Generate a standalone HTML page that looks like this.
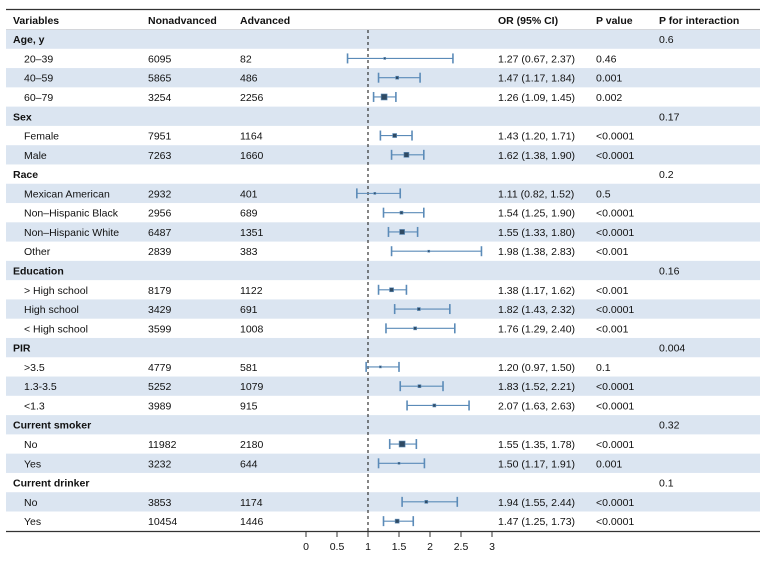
<!DOCTYPE html>
<html><head><meta charset="utf-8"><style>
body{margin:0;background:#fff;}
svg{display:block;font-family:"Liberation Sans",Arial,sans-serif;font-size:10.5px;fill:#111;}
</style></head><body>
<svg id="s" width="771" height="563" viewBox="0 0 771 563"></svg>
<script>
const rows=[
["Age, y",1,"","","","","0.6"],
["20–39",0,"6095","82","1.27 (0.67, 2.37)","0.46","",1.27,0.67,2.37,2],
["40–59",0,"5865","486","1.47 (1.17, 1.84)","0.001","",1.47,1.17,1.84,3],
["60–79",0,"3254","2256","1.26 (1.09, 1.45)","0.002","",1.26,1.09,1.45,6],
["Sex",1,"","","","","0.17"],
["Female",0,"7951","1164","1.43 (1.20, 1.71)","<0.0001","",1.43,1.20,1.71,4],
["Male",0,"7263","1660","1.62 (1.38, 1.90)","<0.0001","",1.62,1.38,1.90,5],
["Race",1,"","","","","0.2"],
["Mexican American",0,"2932","401","1.11 (0.82, 1.52)","0.5","",1.11,0.82,1.52,2],
["Non–Hispanic Black",0,"2956","689","1.54 (1.25, 1.90)","<0.0001","",1.54,1.25,1.90,3],
["Non–Hispanic White",0,"6487","1351","1.55 (1.33, 1.80)","<0.0001","",1.55,1.33,1.80,5],
["Other",0,"2839","383","1.98 (1.38, 2.83)","<0.001","",1.98,1.38,2.83,2],
["Education",1,"","","","","0.16"],
["> High school",0,"8179","1122","1.38 (1.17, 1.62)","<0.001","",1.38,1.17,1.62,4],
["High school",0,"3429","691","1.82 (1.43, 2.32)","<0.0001","",1.82,1.43,2.32,3],
["< High school",0,"3599","1008","1.76 (1.29, 2.40)","<0.001","",1.76,1.29,2.40,3],
["PIR",1,"","","","","0.004"],
[">3.5",0,"4779","581","1.20 (0.97, 1.50)","0.1","",1.20,0.97,1.50,2],
["1.3-3.5",0,"5252","1079","1.83 (1.52, 2.21)","<0.0001","",1.83,1.52,2.21,3],
["<1.3",0,"3989","915","2.07 (1.63, 2.63)","<0.0001","",2.07,1.63,2.63,3],
["Current smoker",1,"","","","","0.32"],
["No",0,"11982","2180","1.55 (1.35, 1.78)","<0.0001","",1.55,1.35,1.78,6],
["Yes",0,"3232","644","1.50 (1.17, 1.91)","0.001","",1.50,1.17,1.91,2],
["Current drinker",1,"","","","","0.1"],
["No",0,"3853","1174","1.94 (1.55, 2.44)","<0.0001","",1.94,1.55,2.44,3],
["Yes",0,"10454","1446","1.47 (1.25, 1.73)","<0.0001","",1.47,1.25,1.73,4]];
const X=v=>306+62*v;let h="";const H=19.28,T0=29.5;
rows.forEach((r,i)=>{const t=T0+i*H;if(i%2==0)h+=`<rect x="6" y="${t}" width="754" height="${H}" fill="#dbe5f1"/>`;});
h+=`<line x1="6" y1="9.5" x2="760" y2="9.5" stroke="#333" stroke-width="1.2"/><line x1="6" y1="29.5" x2="760" y2="29.5" stroke="#bbb" stroke-width="0.6"/>`;
h+=`<g font-weight="bold"><text x="13" y="24">Variables</text><text x="148" y="24">Nonadvanced</text><text x="240" y="24">Advanced</text><text x="498" y="24">OR (95% CI)</text><text x="596" y="24">P value</text><text x="659" y="24">P for interaction</text></g>`;
h+=`<line x1="368" y1="30" x2="368" y2="531" stroke="#222" stroke-width="1.1" stroke-dasharray="3,3"/>`;
rows.forEach((r,i)=>{const c=T0+i*H+H/2,b=c+4;
if(r[1])h+=`<text x="13" y="${b}" font-weight="bold">${r[0]}</text>`;else h+=`<text x="24" y="${b}">${r[0].replace(/</g,"&lt;").replace(/>/g,"&gt;")}</text>`;
h+=`<text x="148" y="${b}">${r[2]}</text><text x="240" y="${b}">${r[3]}</text><text x="498" y="${b}">${r[4]}</text><text x="596" y="${b}">${r[5].replace("<","&lt;")}</text><text x="659" y="${b}">${r[6]}</text>`;
if(!r[1]){const lo=X(r[8]),hi=X(r[9]),m=X(r[7]),s=r[10];
h+=`<g stroke="#5b8bb8" stroke-width="1.1"><line x1="${lo}" y1="${c}" x2="${hi}" y2="${c}"/><line x1="${lo}" y1="${c-5}" x2="${lo}" y2="${c+5}" stroke-width="1.6"/><line x1="${hi}" y1="${c-5}" x2="${hi}" y2="${c+5}" stroke-width="1.6"/></g><rect x="${m-s/2}" y="${c-s/2}" width="${s}" height="${s}" fill="#2f4a63" stroke="#5b8bb8" stroke-width="0.6"/>`;}
});
h+=`<line x1="6" y1="531.5" x2="760" y2="531.5" stroke="#333" stroke-width="1.2"/>`;
["0","0.5","1","1.5","2","2.5","3"].forEach((l,k)=>{const x=X(k*0.5);h+=`<line x1="${x}" y1="532" x2="${x}" y2="537" stroke="#333"/><text x="${x}" y="550" text-anchor="middle">${l}</text>`;});
document.getElementById("s").innerHTML=h;
</script>
</body></html>
